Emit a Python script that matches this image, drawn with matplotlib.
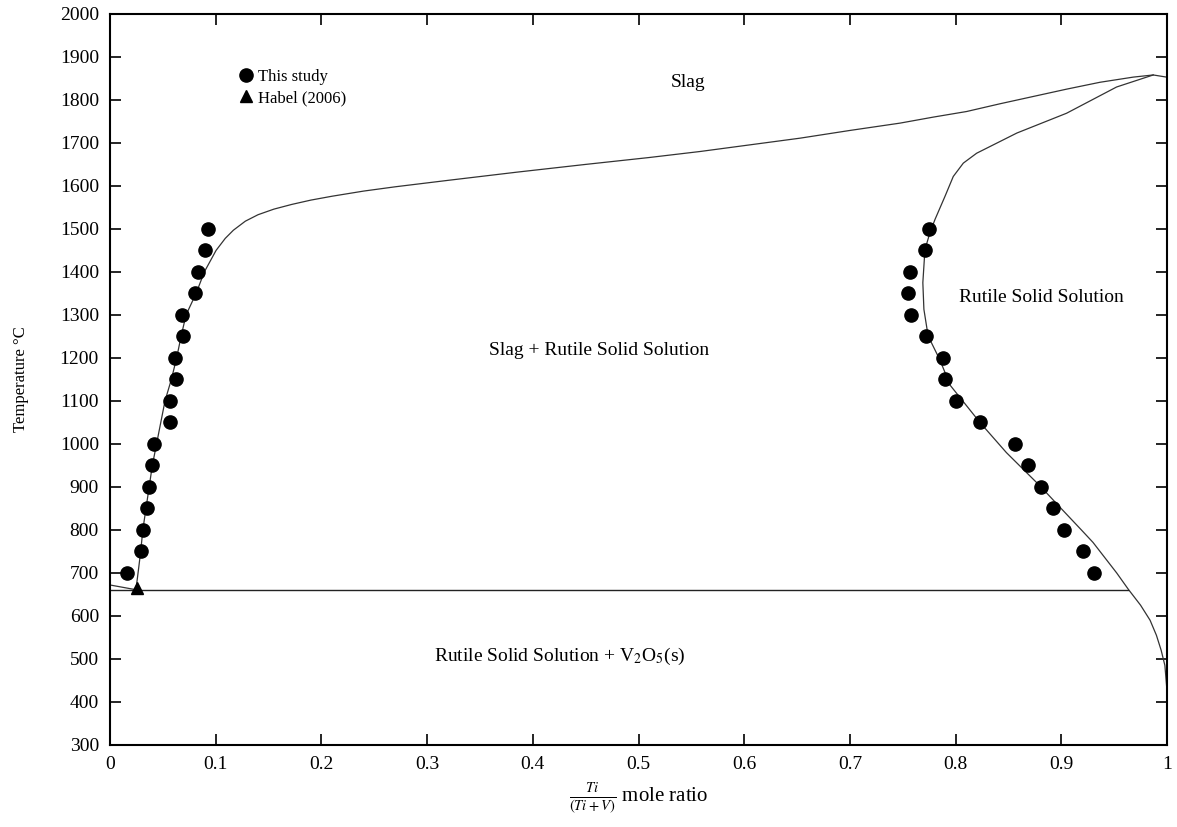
import numpy as np
import matplotlib.pyplot as plt
from matplotlib.ticker import MultipleLocator, FuncFormatter

# experimental points, this study (left and right branches)
left_x = [0.0923, 0.0901, 0.0833, 0.0804, 0.0684, 0.0691, 0.0615, 0.0624, 0.0564, 0.0564,
          0.0420, 0.0394, 0.0369, 0.0347, 0.0312, 0.0293, 0.0164]
left_T = [1500, 1450, 1400, 1350, 1300, 1250, 1200, 1150, 1100, 1050,
          1000, 950, 900, 850, 800, 750, 700]
right_x = [0.7751, 0.7707, 0.7569, 0.7550, 0.7578, 0.7720, 0.7878, 0.7903, 0.8001, 0.8231,
           0.8559, 0.8688, 0.8805, 0.8925, 0.9026, 0.9202, 0.9312]
right_T = [1500, 1450, 1400, 1350, 1300, 1250, 1200, 1150, 1100, 1050,
           1000, 950, 900, 850, 800, 750, 700]

# Habel (2006)
habel_x = [0.0252]
habel_T = [666]

# calculated liquidus (slag boundary)
liq_x = [0.0, 0.0245, 0.027, 0.029, 0.031, 0.034, 0.037, 0.040, 0.044, 0.048, 0.052, 0.058,
         0.063, 0.0672, 0.0719, 0.0814, 0.0892, 0.1003, 0.109, 0.1167, 0.128, 0.14, 0.155,
         0.172, 0.19, 0.21, 0.24, 0.27, 0.32, 0.385, 0.45, 0.51, 0.5582, 0.6528, 0.7001,
         0.7474, 0.7789, 0.8104, 0.8420, 0.8735, 0.9050, 0.9366, 0.9681, 0.9870, 0.9996]
liq_T = [672, 661, 710, 750, 800, 850, 900, 950, 1000, 1050, 1100, 1150,
         1200, 1250, 1300, 1350, 1400, 1450, 1478, 1497, 1518, 1533, 1546,
         1557, 1567, 1576, 1588, 1598, 1613, 1632, 1650, 1666, 1680, 1711, 1729,
         1746, 1760, 1773, 1791, 1808, 1825, 1841, 1853, 1858, 1853]

# calculated rutile solid solution boundary
sol_x = [0.9870, 0.9523, 0.905, 0.858, 0.8199, 0.8073, 0.7978, 0.79, 0.7805, 0.7757, 0.771,
         0.769, 0.770, 0.774, 0.785, 0.795, 0.823, 0.848, 0.880, 0.8998, 0.919, 0.930,
         0.9524, 0.9634, 0.975, 0.984, 0.9900, 0.9945, 0.998, 1.0]
sol_T = [1858, 1830, 1769, 1723, 1676, 1653, 1622, 1576, 1522, 1491, 1452,
         1375, 1313, 1251, 1196, 1136, 1050, 980, 902, 850, 800, 771,
         700, 662, 625, 590, 555, 520, 485, 426]

eutectic_T = 661
eutectic_x = [0.0, 0.9634]

plt.rcParams['font.family'] = ['Liberation Serif', 'DejaVu Serif']
plt.rcParams['mathtext.fontset'] = 'stix'

fig = plt.figure(figsize=(11.77, 8.27), dpi=100)
ax = fig.add_axes([0.0935, 0.0992, 0.898, 0.884])

ax.plot(liq_x, liq_T, color='#333333', lw=0.9)
ax.plot(sol_x, sol_T, color='#333333', lw=0.9)
ax.plot(eutectic_x, [eutectic_T, eutectic_T], color='#222222', lw=1.0)

ax.plot(left_x, left_T, 'o', color='black', ms=9.5, label='This study')
ax.plot(right_x, right_T, 'o', color='black', ms=9.5)
ax.plot(habel_x, habel_T, '^', color='black', ms=9, label='Habel (2006)')

ax.text(0.547, 1840, 'Slag', ha='center', va='center', fontsize=14)
ax.text(0.463, 1217, 'Slag + Rutile Solid Solution', ha='center', va='center', fontsize=14)
ax.text(0.881, 1340, 'Rutile Solid Solution', ha='center', va='center', fontsize=14)
ax.text(0.4257, 507, 'Rutile Solid Solution + V$_2$O$_5$(s)', ha='center', va='center', fontsize=14)

ax.legend(loc='upper left', bbox_to_anchor=(0.105, 0.945), frameon=False, fontsize=12,
          handletextpad=0.1, labelspacing=0.3, handlelength=1.2)

ax.set_xlim(0, 1)
ax.set_ylim(300, 2000)
ax.xaxis.set_major_locator(MultipleLocator(0.1))
ax.yaxis.set_major_locator(MultipleLocator(100))
ax.xaxis.set_major_formatter(FuncFormatter(lambda v, p: '%g' % round(v, 2)))
ax.tick_params(direction='in', length=8, width=1.2, top=True, right=True, labelsize=14, pad=8)
for s in ax.spines.values():
    s.set_linewidth(1.5)

ax.set_xlabel(r'$\frac{Ti}{(Ti+V)}$ mole ratio', fontsize=15, labelpad=6)
ax.set_ylabel('Temperature °C', fontsize=12, labelpad=22)

fig.savefig('out.png', dpi=100)
